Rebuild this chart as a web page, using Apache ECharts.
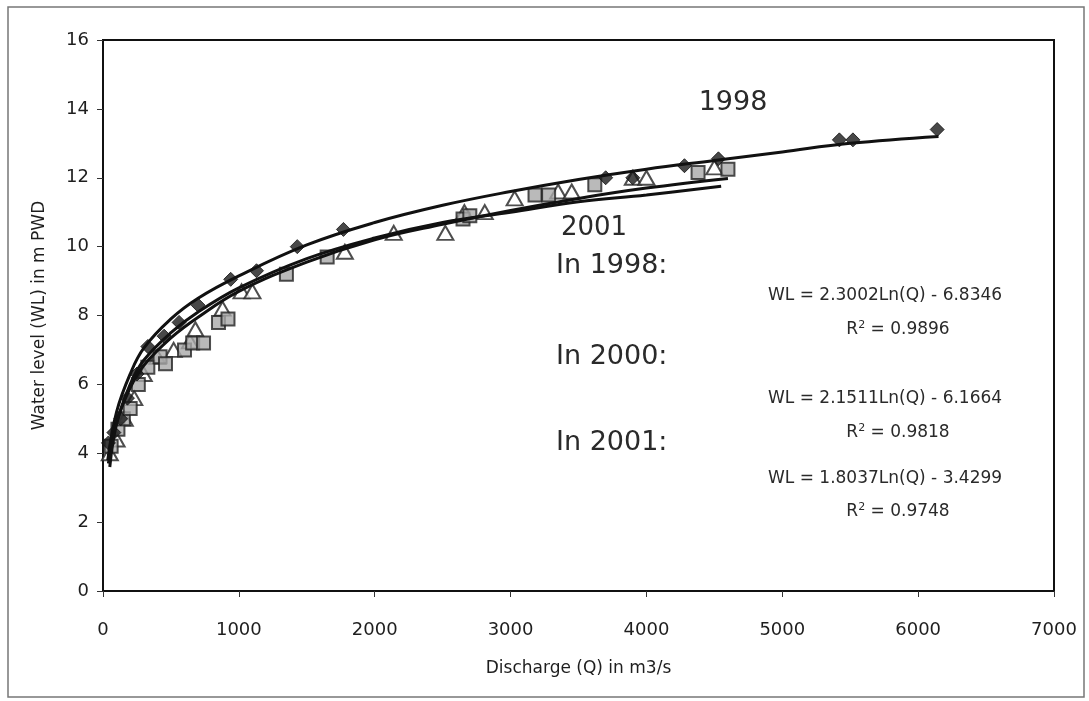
<!DOCTYPE html>
<html>
<head>
<meta charset="utf-8">
<script src="https://cdn.jsdelivr.net/npm/echarts@6/dist/echarts.min.js"></script>
<style>
  html, body { margin: 0; padding: 0; background: #fff; }
  #chart { width: 1089px; height: 701px; }
</style>
</head>
<body>
<div id="chart"></div>
<script>
// axis ticks
const xTicks = [0, 1000, 2000, 3000, 4000, 5000, 6000, 7000];
const yTicks = [0, 2, 4, 6, 8, 10, 12, 14, 16];

// measured points [Q, WL]
const obs1998 = [[40, 4.3], [80, 4.6], [130, 5.0], [180, 5.6], [250, 6.3], [330, 7.1], [450, 7.4],
  [560, 7.8], [700, 8.3], [940, 9.05], [1130, 9.3], [1430, 10.0], [1770, 10.5], [3700, 12.0],
  [3900, 12.0], [4280, 12.35], [4530, 12.55], [5420, 13.1], [5520, 13.1], [6140, 13.4]];
const obs2000 = [[60, 4.2], [110, 4.7], [150, 5.0], [200, 5.3], [260, 6.0], [330, 6.5], [420, 6.8],
  [460, 6.6], [600, 7.0], [660, 7.2], [740, 7.2], [850, 7.8], [920, 7.9], [1350, 9.2], [1650, 9.7],
  [2650, 10.8], [2700, 10.9], [3180, 11.5], [3280, 11.5], [3620, 11.8], [4380, 12.15], [4600, 12.25]];
const obs2001 = [[50, 4.0], [100, 4.4], [160, 5.0], [230, 5.6], [300, 6.3], [400, 6.8], [520, 7.0],
  [640, 7.25], [680, 7.6], [880, 8.2], [1020, 8.7], [1100, 8.7], [1780, 9.85], [2140, 10.4],
  [2520, 10.4], [2660, 11.0], [2810, 11.0], [3030, 11.4], [3350, 11.6], [3450, 11.6], [3900, 12.0],
  [4000, 12.0], [4500, 12.3]];

// fitted curves
const fit1998 = [[35, 3.8], [100, 5.2], [200, 6.3], [300, 7.05], [500, 7.9], [700, 8.5], [1000, 9.15],
  [1500, 10.05], [2000, 10.7], [2500, 11.2], [3000, 11.6], [3500, 11.95], [4000, 12.25],
  [4500, 12.5], [5000, 12.75], [5500, 13.0], [6150, 13.2]];
const fit2000 = [[40, 3.7], [100, 4.9], [200, 5.9], [300, 6.55], [500, 7.35], [700, 7.95], [1000, 8.7],
  [1500, 9.55], [2000, 10.2], [2500, 10.65], [3000, 11.05], [3500, 11.4], [4000, 11.7], [4600, 11.98]];
const fit2001 = [[50, 3.6], [100, 4.85], [200, 6.0], [300, 6.7], [500, 7.5], [700, 8.1], [1000, 8.8],
  [1500, 9.65], [2000, 10.25], [2500, 10.7], [3000, 11.0], [3500, 11.3], [4000, 11.5], [4550, 11.75]];

const font = '"DejaVu Sans", Arial, sans-serif';
const ink = '#1e1e1e';

function label(x, y, text, size, align) {
  return {
    type: 'text', x: x, y: y,
    style: {
      text: text, fontFamily: 'DejaVu Sans', fontSize: size, fill: '#2a2a2a',
      align: align || 'left', verticalAlign: 'middle',
      rich: { sup: { fontFamily: 'DejaVu Sans', fontSize: Math.round(size * 0.62), fill: '#2a2a2a', verticalAlign: 'top', padding: [0, 0, 9, 0] } }
    }
  };
}

const chart = echarts.init(document.getElementById('chart'));

const option = {
  backgroundColor: '#fff',
  animation: false,
  grid: { left: 103, right: 35, top: 40, bottom: 110, show: true, borderColor: '#111', borderWidth: 2 },
  xAxis: {
    type: 'value', min: xTicks[0], max: xTicks[xTicks.length - 1], interval: 1000,
    name: 'Discharge (Q) in m3/s', nameLocation: 'middle', nameGap: 69,
    nameTextStyle: { fontFamily: font, fontSize: 17, color: ink },
    axisLine: { show: true, lineStyle: { color: '#111', width: 2 } },
    axisTick: { show: true, length: 6, lineStyle: { color: '#333' } },
    axisLabel: { fontFamily: font, fontSize: 18, color: ink, margin: 30, formatter: v => String(v) },
    splitLine: { show: false }
  },
  yAxis: {
    type: 'value', min: yTicks[0], max: yTicks[yTicks.length - 1], interval: 2,
    name: 'Water level (WL) in m PWD', nameLocation: 'middle', nameGap: 55,
    nameTextStyle: { fontFamily: font, fontSize: 17, color: ink },
    axisLine: { show: true, lineStyle: { color: '#111', width: 2 } },
    axisTick: { show: true, length: 6, lineStyle: { color: '#333' } },
    axisLabel: { fontFamily: font, fontSize: 18, color: ink, margin: 14 },
    splitLine: { show: false }
  },
  series: [
    {
      name: '2001', type: 'scatter', data: obs2001, symbol: 'triangle', symbolSize: [16, 14],
      itemStyle: { color: '#fff', borderColor: '#222', borderWidth: 2 }, z: 2
    },
    {
      name: '2000', type: 'scatter', data: obs2000, symbol: 'rect', symbolSize: 13,
      itemStyle: { color: '#a9a9a9', borderColor: '#222', borderWidth: 2 }, z: 3
    },
    {
      name: '1998', type: 'scatter', data: obs1998, symbol: 'diamond', symbolSize: 14,
      itemStyle: { color: '#1a1a1a', borderColor: '#111', borderWidth: 1 }, z: 4
    },
    {
      name: 'fit 1998', type: 'line', data: fit1998, smooth: 0.4, showSymbol: false,
      lineStyle: { color: '#111', width: 3 }, z: 5
    },
    {
      name: 'fit 2000', type: 'line', data: fit2000, smooth: 0.4, showSymbol: false,
      lineStyle: { color: '#111', width: 3 }, z: 5
    },
    {
      name: 'fit 2001', type: 'line', data: fit2001, smooth: 0.4, showSymbol: false,
      lineStyle: { color: '#111', width: 3 }, z: 5
    }
  ],
  graphic: [
    { type: 'rect', shape: { x: 8, y: 7, width: 1076, height: 690 }, style: { fill: 'none', stroke: '#777', lineWidth: 1.5 }, z: -1 },
    label(733, 103, '1998', 27, 'center'),
    label(594, 228, '2001', 26, 'center'),
    label(556, 266, 'In 1998:', 27),
    label(556, 357, 'In 2000:', 27),
    label(556, 443, 'In 2001:', 27),
    label(768, 296, 'WL = 2.3002Ln(Q) - 6.8346', 17),
    label(898, 330, 'R{sup|2} = 0.9896', 17, 'center'),
    label(768, 399, 'WL = 2.1511Ln(Q) - 6.1664', 17),
    label(898, 433, 'R{sup|2} = 0.9818', 17, 'center'),
    label(768, 479, 'WL = 1.8037Ln(Q) - 3.4299', 17),
    label(898, 512, 'R{sup|2} = 0.9748', 17, 'center')
  ]
};

chart.setOption(option);
</script>
</body>
</html>
